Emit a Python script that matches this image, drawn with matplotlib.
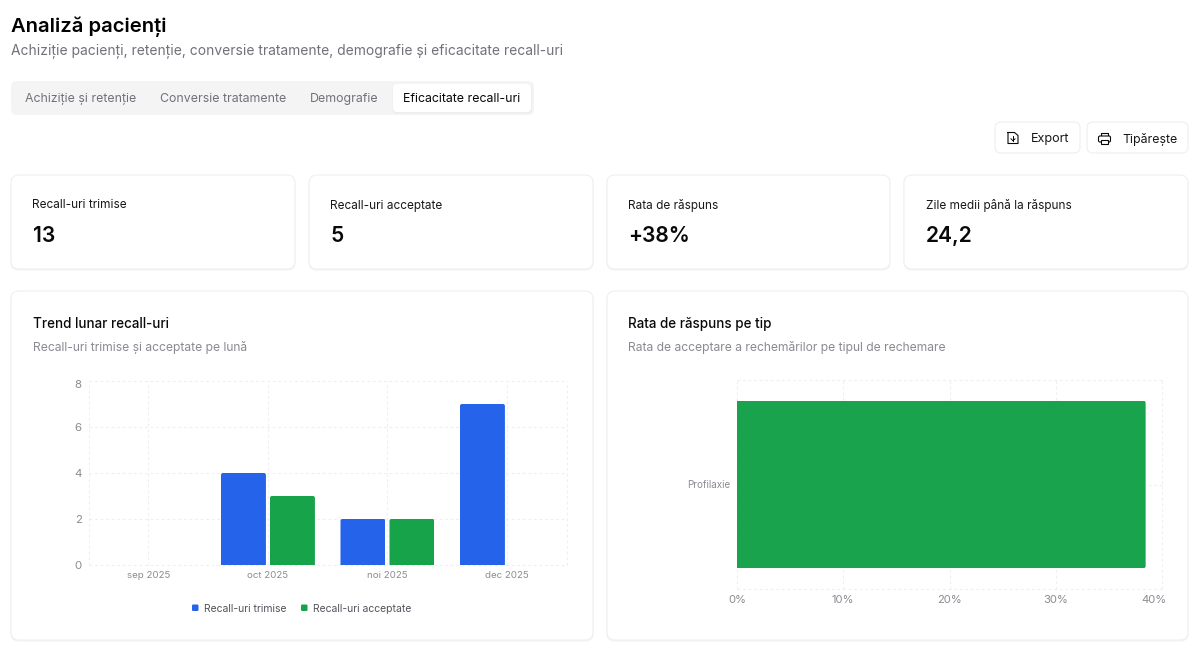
import matplotlib
matplotlib.use('Agg')
import matplotlib.pyplot as plt
from matplotlib.patches import FancyBboxPatch, Rectangle
from matplotlib.transforms import ScaledTranslation

plt.rcParams['font.family'] = ['Inter', 'Noto Sans', 'DejaVu Sans']

W, H = 1200, 654

# date
months = ['sep 2025', 'oct 2025', 'noi 2025', 'dec 2025']
trimise = [0, 4, 2, 7]
acceptate = [0, 3, 2, 0]
y_ticks = [0, 2, 4, 6, 8]
tipuri = ['Profilaxie']
rata = [38.46]
x_ticks = [0, 10, 20, 30, 40]
tabs = ['Achiziție și retenție', 'Conversie tratamente', 'Demografie', 'Eficacitate recall-uri']
kpi_labels = ['Recall-uri trimise', 'Recall-uri acceptate', 'Rata de răspuns', 'Zile medii până la răspuns']
kpi_values = ['13', '5', '+38%', '24,2']

BLUE = '#2563eb'
GREEN = '#16a34a'
GRID = '#efeff1'
BORDER = '#f0f0f2'
MUTED = '#71717a'
AXIS = '#8b8b93'
DARK = '#09090b'
DASH = (0, (2.5, 2.5))


def px(n):
    return n * 0.72


fig = plt.figure(figsize=(W / 100, H / 100), dpi=100, facecolor='white')

# strat de fundal in pixeli
bg = fig.add_axes([0, 0, 1, 1], zorder=0)
bg.set_xlim(0, W)
bg.set_ylim(H, 0)
bg.axis('off')


def rbox(x0, y0, x1, y1, r, fc='white', ec='none', lw=1, z=1):
    p = FancyBboxPatch((x0 + r, y0 + r), x1 - x0 - 2 * r, y1 - y0 - 2 * r,
                       boxstyle='round,pad=%f,rounding_size=%f' % (r, r),
                       fc=fc, ec=ec, lw=lw, zorder=z)
    bg.add_patch(p)
    return p


def card(x0, y0, x1, y1):
    rbox(x0 - 0.5, y0 + 0.5, x1 + 0.5, y1 + 1.5, 8, fc='#f3f3f5', z=1)
    rbox(x0, y0, x1, y1, 8, fc='white', ec=BORDER, lw=0.8, z=2)


def label(x, y, s, size, color=DARK, weight='normal', ha='left'):
    bg.text(x, y, s, fontsize=px(size), color=color, fontweight=weight,
            ha=ha, va='center_baseline', zorder=5)


# antet
label(11, 24.5, 'Analiză pacienți', 20.2, '#000000', 'semibold')
label(11, 49, 'Achiziție pacienți, retenție, conversie tratamente, demografie și eficacitate recall-uri', 13.85, MUTED)

# tab-uri
rbox(11, 81, 534, 115, 6, fc='#f4f4f5')
rbox(392.5, 84.5, 532, 113.5, 4, fc='#ededef', z=2)
rbox(393, 84, 531, 112, 4, fc='white', z=3)
tab_x = [25, 160, 310, 403]
for i, t in enumerate(tabs):
    label(tab_x[i], 97.5, t, 12.35, DARK if i == 3 else MUTED, 'normal')

# butoane
for x0, x1 in [(995, 1080), (1087, 1188)]:
    rbox(x0, 122, x1, 153, 6, fc='white', ec=BORDER, lw=0.9, z=2)
label(1031, 137.5, 'Export', 12.6, '#18181b')
label(1122, 137.5, 'Tipărește', 12.35, '#18181b')
# iconite
bg.plot([1008, 1014.5, 1018, 1018, 1008, 1008], [132.5, 132.5, 135.5, 143.5, 143.5, 132.5], color=DARK, lw=0.8, zorder=5)
bg.plot([1013, 1013], [136, 140.5], color=DARK, lw=0.7, zorder=5)
bg.plot([1011, 1013, 1015], [138.8, 140.8, 138.8], color=DARK, lw=0.7, zorder=5)
bg.plot([1101, 1101, 1108, 1108], [136, 132.5, 132.5, 136], color=DARK, lw=0.8, zorder=5)
rbox(1098.5, 136, 1110.5, 142, 1.5, fc='white', ec=DARK, lw=0.8, z=5)
bg.add_patch(Rectangle((1101, 139.5), 7, 4.5, fc='white', ec=DARK, lw=0.8, zorder=6))

# carduri KPI
kpi_box = [(11, 295), (309, 593), (607, 890), (904, 1188)]
for (x0, x1), lab, val in zip(kpi_box, kpi_labels, kpi_values):
    card(x0, 175, x1, 269)
    label(x0 + 21.5, 204, lab, 11.8, '#18181b')
    label(x0 + 21.5, 234, val, 21, DARK, 'semibold')

# carduri grafice
card(11, 291, 593, 640)
card(607, 291, 1188, 640)
label(33, 322.5, 'Trend lunar recall-uri', 13.4, DARK, 'medium')
label(33, 346, 'Recall-uri trimise și acceptate pe lună', 12.1, '#8a8a92')
label(628, 322.5, 'Rata de răspuns pe tip', 13.4, DARK, 'medium')
label(628, 346, 'Rata de acceptare a rechemărilor pe tipul de rechemare', 12.1, '#8a8a92')


def chart_axes(x0, y0, x1, y1):
    ax = fig.add_axes([x0 / W, 1 - y1 / H, (x1 - x0) / W, (y1 - y0) / H], zorder=2)
    ax.patch.set_alpha(0)
    for s in ax.spines.values():
        s.set_visible(False)
    ax.set_axisbelow(True)
    ax.grid(True, color=GRID, lw=0.8, linestyle=DASH, clip_on=False)
    return ax


def round_bar(ax, bar, r, side='top'):
    # colturi rotunjite prin decupare, in pixeli
    (x0, y0), (x1, y1) = ax.transData.transform(bar.get_bbox().get_points())
    yt0, yt1 = H - y1, H - y0
    if side == 'top':
        clip = FancyBboxPatch((x0 + r, yt0 + r), x1 - x0 - 2 * r, yt1 - yt0,
                              boxstyle='round,pad=%f,rounding_size=%f' % (r, r))
    else:
        clip = FancyBboxPatch((x0 - 10, yt0 + r), x1 - x0 + 10 - r, yt1 - yt0 - 2 * r,
                              boxstyle='round,pad=%f,rounding_size=%f' % (r, r))
    clip.set_transform(bg.transData)
    bar.set_clip_path(clip)


# grafic stanga
ax1 = chart_axes(88.7, 381, 566.7, 565)
pos = list(range(len(months)))
bar_w = 0.376
gap = 0.034
b1 = ax1.bar([p - (bar_w + gap) / 2 for p in pos], trimise, bar_w, color=BLUE, zorder=3, label='Recall-uri trimise')
b2 = ax1.bar([p + (bar_w + gap) / 2 for p in pos], acceptate, bar_w, color=GREEN, zorder=3, label='Recall-uri acceptate')
ax1.set_xlim(-0.5, 3.5)
ax1.set_ylim(0, 8)
ax1.set_xticks(pos, months)
ax1.set_yticks(y_ticks)
ax1.axvline(-0.5, color=GRID, lw=0.8, linestyle=DASH, zorder=1, clip_on=False)
ax1.axvline(3.5, color=GRID, lw=0.8, linestyle=DASH, zorder=1, clip_on=False)
ax1.tick_params(axis='both', length=0, colors=AXIS)
ax1.tick_params(axis='x', labelsize=px(9.7), pad=4.4)
ax1.tick_params(axis='y', labelsize=px(11.5), pad=5)
ax1.get_yticklabels()[-1].set_transform(
    ax1.get_yticklabels()[-1].get_transform() + ScaledTranslation(0, -3 / 100, fig.dpi_scale_trans))
for b in list(b1) + list(b2):
    if b.get_height() > 0:
        round_bar(ax1, b, 2)

# legenda
rbox(192, 604.5, 198.5, 611, 1.2, fc=BLUE, z=5)
label(203.5, 608, 'Recall-uri trimise', 10.4, '#52525b')
rbox(301, 604.5, 307.5, 611, 1.2, fc=GREEN, z=5)
label(313, 608, 'Recall-uri acceptate', 10.4, '#52525b')

# grafic dreapta
ax2 = chart_axes(737, 380, 1162, 589)
b3 = ax2.barh([0], rata, 0.8, color='#18a34c', zorder=3)
ax2.set_xlim(0, 40)
ax2.set_ylim(-0.5, 0.5)
ax2.set_xticks(x_ticks, ['%d%%' % v for v in x_ticks])
ax2.set_yticks([0], tipuri)
ax2.axhline(0.5, color=GRID, lw=0.8, linestyle=DASH, zorder=1, clip_on=False)
ax2.axhline(-0.5, color=GRID, lw=0.8, linestyle=DASH, zorder=1, clip_on=False)
ax2.tick_params(axis='both', length=0, colors=AXIS)
ax2.tick_params(axis='x', labelsize=px(11.2), pad=4)
ax2.tick_params(axis='y', labelsize=px(9.8), pad=5)
ax2.get_xticklabels()[-1].set_transform(
    ax2.get_xticklabels()[-1].get_transform() + ScaledTranslation(-8 / 100, 0, fig.dpi_scale_trans))
round_bar(ax2, b3[0], 2, side='right')

fig.savefig('out.png', dpi=100)
